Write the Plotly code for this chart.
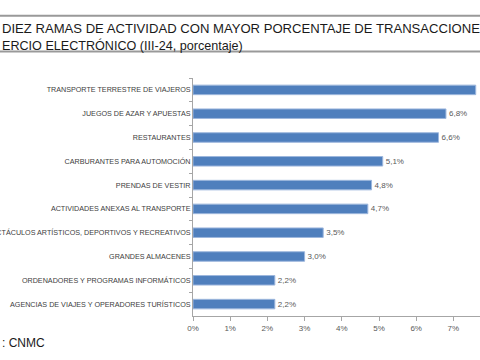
import plotly.graph_objects as go

categories = [
    "TRANSPORTE TERRESTRE DE VIAJEROS",
    "JUEGOS DE AZAR Y APUESTAS",
    "RESTAURANTES",
    "CARBURANTES PARA AUTOMOCIÓN",
    "PRENDAS DE VESTIR",
    "ACTIVIDADES ANEXAS AL TRANSPORTE",
    "ESPECTÁCULOS ARTÍSTICOS, DEPORTIVOS Y RECREATIVOS",
    "GRANDES ALMACENES",
    "ORDENADORES Y PROGRAMAS INFORMÁTICOS",
    "AGENCIAS DE VIAJES Y OPERADORES TURÍSTICOS",
]
values = [7.6, 6.8, 6.6, 5.1, 4.8, 4.7, 3.5, 3.0, 2.2, 2.2]
tick_vals = [0, 1, 2, 3, 4, 5, 6, 7]
tick_text = ["0%", "1%", "2%", "3%", "4%", "5%", "6%", "7%"]

labels = [f"{v:.1f}".replace(".", ",") + "%" for v in values]
# the first bar's label lies beyond the right edge of the cropped reference
labels[0] = ""

fig = go.Figure(go.Bar(
    y=categories, x=values, orientation="h",
    marker=dict(color="#4f7fbd", line=dict(color="#9db7dd", width=1)),
    text=labels, textposition="outside", cliponaxis=False,
    textfont=dict(family="Liberation Sans", size=8, color="#595959"),
))

fig.update_layout(
    width=480, height=360,
    margin=dict(l=193, r=0, t=78, b=44),
    paper_bgcolor="white", plot_bgcolor="white",
    showlegend=False, bargap=0.6,
    font=dict(family="Liberation Sans", color="#404040"),
    xaxis=dict(range=[0, 7.715], tickvals=tick_vals, ticktext=tick_text,
               showgrid=False, zeroline=False, showline=True, linecolor="#a6a6a6",
               linewidth=1, ticks="outside", ticklen=4, tickcolor="#a6a6a6",
               tickfont=dict(size=8, color="#595959"), automargin=False),
    yaxis=dict(autorange="reversed", showgrid=False, zeroline=False, showline=True,
               linecolor="#a6a6a6", linewidth=1, ticks="outside", ticklen=3,
               tickcolor="#a6a6a6", tickson="boundaries",
               tickfont=dict(family="Liberation Sans", size=7.2, color="#404040"),
               automargin=False),
    shapes=[
        dict(type="line", xref="paper", yref="paper", x0=-193/287, x1=1, y0=1.262, y1=1.262,
             line=dict(color="#999999", width=2), layer="above"),
        dict(type="line", xref="paper", yref="paper", x0=-193/287, x1=1, y0=1.111, y1=1.111,
             line=dict(color="#999999", width=2), layer="above"),
    ],
    annotations=[
        dict(text="DIEZ RAMAS DE ACTIVIDAD CON MAYOR PORCENTAJE DE TRANSACCIONES",
             xref="paper", yref="paper", x=-193/287, y=1.21, xanchor="left", yanchor="middle",
             showarrow=False, font=dict(family="Liberation Sans", size=13.1, color="#1a1a1a")),
        dict(text="ERCIO ELECTRÓNICO (III-24, porcentaje)",
             xref="paper", yref="paper", x=-193/287, y=1.136, xanchor="left", yanchor="middle",
             showarrow=False, font=dict(family="Liberation Sans", size=12.6, color="#1a1a1a")),
        dict(text=": CNMC",
             xref="paper", yref="paper", x=-193/287, y=-0.113, xanchor="left", yanchor="middle",
             showarrow=False, font=dict(family="Liberation Sans", size=12, color="#1a1a1a")),
    ],
)

fig.write_html("out.html", config={"displayModeBar": False},
               post_script="document.body.style.margin='0';")
